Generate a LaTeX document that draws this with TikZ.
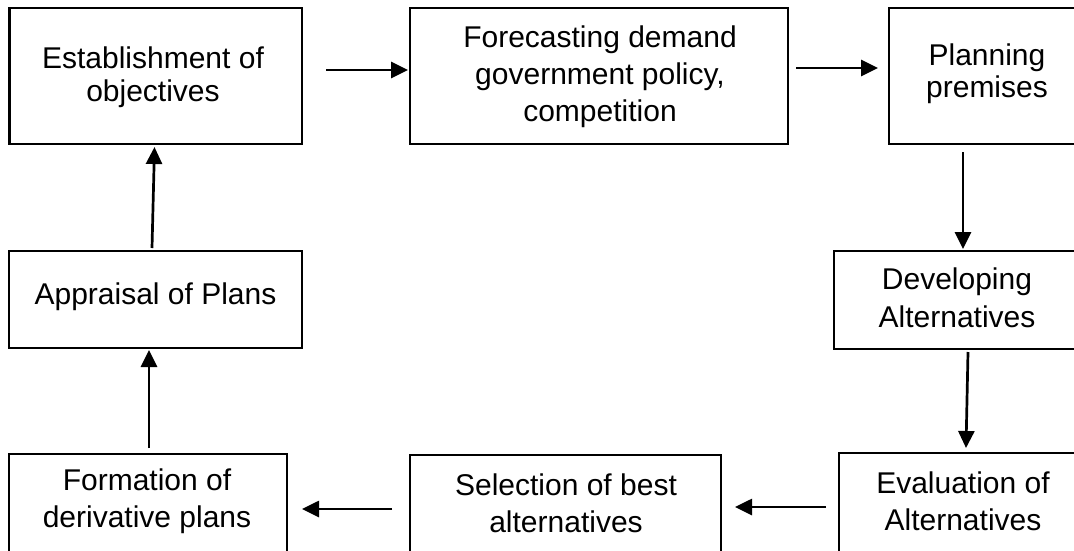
\documentclass[tikz,border=0pt]{standalone}
\usepackage{fontspec}
\setmainfont{Liberation Sans}
\usetikzlibrary{arrows.meta,calc}

\begin{document}
\begin{tikzpicture}[x=1pt,y=-1pt,
  box/.style={draw=black,line width=2.3pt,inner sep=0pt,outer sep=0pt,
              minimum width=#1},
  lbl/.style={align=center,anchor=base,inner sep=0pt,
              font=\fontsize{30}{#1}\selectfont},
  lbl/.default=37,
  flow/.style={line width=2.7pt,-{Triangle[length=17pt,width=16pt]}}]

% page area; boxes on the right and bottom run past it
\clip (0,0) rectangle (1074,550);
\fill[white] (0,0) rectangle (1074,550);

% boxes
\node[box=292.5,minimum height=136] (b1) at (155.75,76) {};
\node[box=378,minimum height=136]   (b2) at (599,76)    {};
\node[box=196,minimum height=136]   (b3) at (987,76)    {};
\node[box=246,minimum height=98]    (b4) at (957,300)   {};
\node[box=248,minimum height=137]   (b5) at (963,521.5) {};
\node[box=311,minimum height=135]   (b6) at (565.5,522.5) {};
\node[box=278,minimum height=136]   (b7) at (148,522)   {};
\node[box=293,minimum height=97]    (b8) at (155.5,299.5) {};

% labels (anchored at the baseline of the last line)
\node[lbl=33] (t1) at (153,101)  {Establishment of\\objectives};
\node[lbl]    (t2) at (600,121)  {Forecasting demand\\government policy,\\competition};
\node[lbl=32] (t3) at (987,97)   {Planning\\premises};
\node[lbl=38] (t4) at (957,327)  {Developing\\Alternatives};
\node[lbl]    (t5) at (963,530)  {Evaluation of\\Alternatives};
\node[lbl]    (t6) at (566,532)  {Selection of best\\alternatives};
\node[lbl]    (t7) at (147,527)  {Formation of\\derivative plans};
\node[lbl]    (t8) at (155.5,304) {Appraisal of Plans};

% connectors
\draw[flow] ($(b1.east)+(24,-6)$) -- ($(b2.west)+(-2,-6)$);
\draw[flow] ($(b2.east)+(8,-8)$) -- ($(b3.west)+(-11,-8)$);
\draw[flow] ($(b3.south west)+(74,8)$) -- ($(b4.north west)+(129,-2)$);
\draw[flow] ($(b4.south west)+(134,3)$) -- ($(b5.north west)+(127,-5)$);
\draw[flow] ($(b5.west)+(-13,-14.5)$) -- ($(b6.east)+(14,-15.5)$);
\draw[flow] ($(b6.west)+(-18,-13.5)$) -- ($(b7.east)+(15,-13)$);
\draw[flow] ($(b7.north west)+(140,-6)$) -- ($(b8.south west)+(140,2)$);
\draw[flow] ($(b8.north west)+(143,-3)$) -- ($(b1.south west)+(145,3)$);
\end{tikzpicture}
\end{document}
